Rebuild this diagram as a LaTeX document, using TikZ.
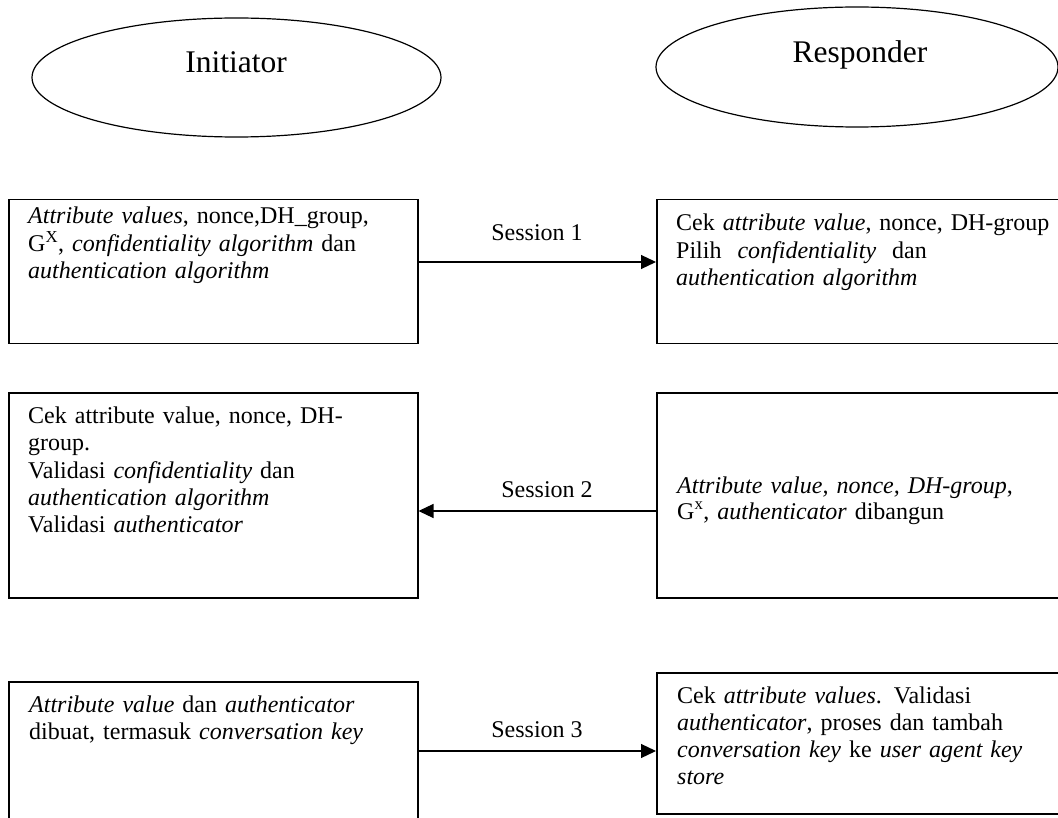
\documentclass[tikz,border=0pt]{standalone}
\usepackage{fontspec}
\setmainfont{Liberation Serif}
\usetikzlibrary{arrows.meta,shapes.geometric}

\begin{document}
\begin{tikzpicture}[x=1pt,y=-1pt,
  box/.style={draw, line width=1.5pt, inner sep=0pt, minimum width=409pt},
  party/.style={draw, ellipse, line width=1.2pt, inner sep=0pt},
  partytext/.style={anchor=base, inner sep=0pt, font=\fontsize{31.5}{36}\selectfont},
  boxtext/.style={anchor=base west, inner sep=0pt, text width=400pt, align=left,
                  font=\fontsize{24}{27.3}\selectfont},
  sesslabel/.style={anchor=base, inner sep=0pt, font=\fontsize{24}{27}\selectfont},
  msg/.style={line width=1.2pt, -{Triangle[length=15pt,width=14pt]}}]

\useasboundingbox (0,0) rectangle (1058,818);

% the two parties
\node[party, minimum width=409pt, minimum height=119pt] (ini) at (236.5,77.5) {};
\node[partytext] (initxt) at (236,73) {Initiator};
\node[party, minimum width=402pt, minimum height=120pt] (res) at (857,67) {};
\node[partytext] (restxt) at (860,63) {Responder};

% session 1
\node[box, minimum height=144pt, anchor=north west] (L1) at (8,199) {};
\node[boxtext] (tL1) at (28,224) {\textit{Attribute values}, nonce,DH\_group,\\
  G\textsuperscript{X}, \textit{confidentiality algorithm} dan\\
  \textit{authentication algorithm}};
\node[box, minimum height=144pt, anchor=north west] (R1) at (656,199) {};
\node[boxtext] (tR1) at (676,231) {Cek \textit{attribute value}, nonce, DH-group\\
  Pilih\ \ \textit{confidentiality}\ \ dan\\
  \textit{authentication algorithm}};
\coordinate (s1) at ([yshift=-63pt]L1.north east);
\draw[msg] (s1) -- (s1 -| R1.west);
\node[sesslabel] (ses1) at (537,241) {Session 1};

% session 2
\node[box, minimum height=205pt, anchor=north west] (L2) at (8,392) {};
\node[boxtext] (tL2) at (28,423.5) {Cek attribute value, nonce, DH-\\
  group.\\
  Validasi \textit{confidentiality} dan\\
  \textit{authentication algorithm}\\
  Validasi \textit{authenticator}};
\node[box, minimum height=205pt, anchor=north west] (R2) at (656,392) {};
\node[boxtext, font=\fontsize{24}{26}\selectfont] (tR2) at (677,493) {\textit{Attribute value, nonce, DH-group},\\
  G\textsuperscript{x}, \textit{authenticator} dibangun};
\coordinate (s2) at ([yshift=-119pt]R2.north west);
\draw[msg] (s2) -- (s2 -| L2.east);
\node[sesslabel] (ses2) at (547,497) {Session 2};

% session 3
\node[box, minimum height=150pt, anchor=north west] (L3) at (8,681) {};
\node[boxtext] (tL3) at (29,712) {\textit{Attribute value} dan \textit{authenticator}\\
  dibuat, termasuk \textit{conversation key}};
\node[box, minimum height=141pt, anchor=north west] (R3) at (656,672) {};
\node[boxtext] (tR3) at (677,703) {Cek \textit{attribute values}. Validasi\\
  \textit{authenticator}, proses dan tambah\\
  \textit{conversation key} ke \textit{user agent key}\\
  \textit{store}};
\coordinate (s3) at ([yshift=-70pt]L3.north east);
\draw[msg] (s3) -- (s3 -| R3.west);
\node[sesslabel] (ses3) at (537,737) {Session 3};
\end{tikzpicture}
\end{document}
